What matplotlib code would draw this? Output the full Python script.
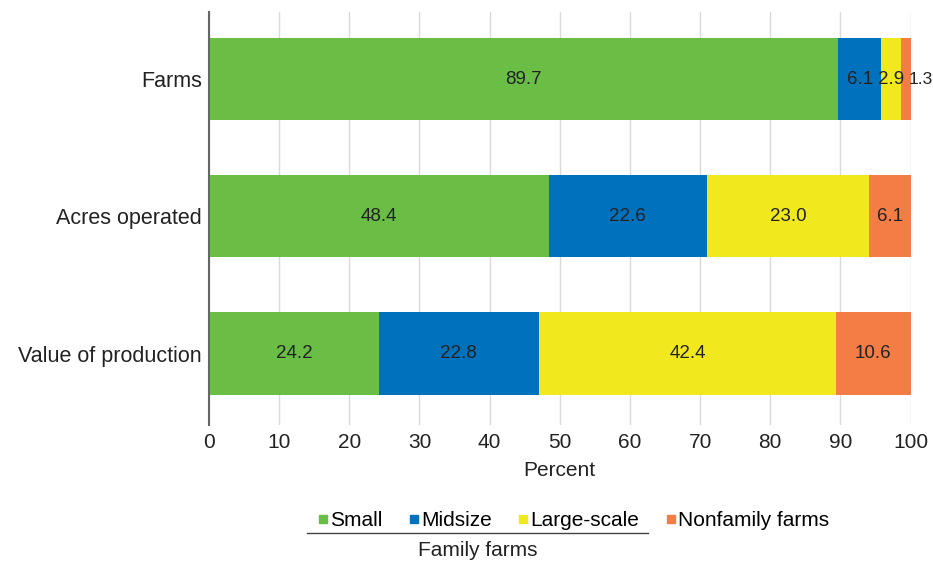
import matplotlib.pyplot as plt
from matplotlib.lines import Line2D

plt.rcParams['font.family'] = ['Liberation Sans', 'DejaVu Sans']

categories = ['Farms', 'Acres operated', 'Value of production']
small = [89.7, 48.4, 24.2]
midsize = [6.1, 22.6, 22.8]
large_scale = [2.9, 23.0, 42.4]
nonfamily = [1.3, 6.1, 10.6]

series_names = ['Small', 'Midsize', 'Large-scale', 'Nonfamily farms']
colors = ['#6abd45', '#0071bc', '#f2e81e', '#f47d46']

fig = plt.figure(figsize=(9.33, 5.65), dpi=100)
ax = fig.add_axes([0.224, 0.248, 0.752, 0.731])

y = list(range(len(categories)))
left = [0.0] * len(categories)
for vals, col in zip([small, midsize, large_scale, nonfamily], colors):
    ax.barh(y, vals, left=left, height=0.6, color=col, zorder=3)
    for i, v in enumerate(vals):
        if v < 2:
            # too narrow to fit inside, put it at the end of the bar
            ax.text(left[i] + v - 0.25, i, f'{v:.1f}', ha='left', va='center',
                    fontsize=12.5, color='#222222', zorder=4, clip_on=False)
        else:
            ax.text(left[i] + v / 2, i, f'{v:.1f}', ha='center', va='center',
                    fontsize=13.5, color='#222222', zorder=4)
    left = [a + b for a, b in zip(left, vals)]

ax.set_xlim(0, 100)
ax.set_ylim(2.52, -0.49)
ax.set_xticks(range(0, 101, 10))
ax.set_yticks(y)
ax.set_yticklabels(categories, fontsize=15.5)
ax.tick_params(axis='both', length=0, colors='#222222')
ax.tick_params(axis='x', labelsize=15, pad=6)
ax.tick_params(axis='y', pad=5)
ax.grid(axis='x', color='#d9d9d9', linewidth=1, zorder=0)
for s in ['top', 'right', 'bottom']:
    ax.spines[s].set_visible(False)
ax.spines['left'].set_color('#666666')
ax.spines['left'].set_linewidth(1.5)
ax.spines['left'].set_zorder(5)
ax.set_xlabel('Percent', fontsize=15, color='#222222', labelpad=6)

handles = [Line2D([], [], marker='s', linestyle='none', markersize=6,
                  color=c) for c in colors]
fig.legend(handles, series_names, loc='center', ncol=4,
           bbox_to_anchor=(573 / 933, 1 - 521 / 565), frameon=False,
           fontsize=15, handletextpad=0.05, columnspacing=1.2,
           handlelength=0.6)

# bracket line grouping the family farm classes
fig.add_artist(Line2D([307 / 933, 648 / 933], [1 - 533 / 565, 1 - 533 / 565],
                      color='#444444', linewidth=1))
fig.text(478 / 933, 1 - 551 / 565, 'Family farms', ha='center', va='center',
         fontsize=15, color='#222222')

fig.savefig('out.png', dpi=100)
